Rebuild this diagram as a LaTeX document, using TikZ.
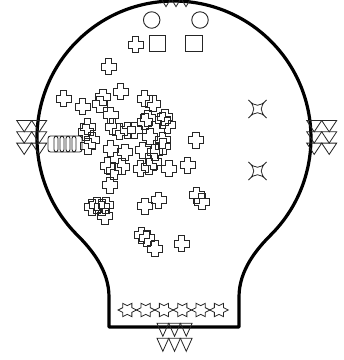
\documentclass[tikz,border=0pt]{standalone}
\usetikzlibrary{shapes.geometric}
\tikzset{
  outline/.style={line width=3.2pt, line join=round, draw=black},
  crossline/.style={line width=0.9pt, draw=black!85},
  triline/.style={line width=0.8pt, draw=black!85, line join=miter},
  padbox/.style={draw=black!85, line width=0.9pt, rounded corners=2.5pt, minimum width=10pt, minimum height=16pt, inner sep=0pt},
  ringmark/.style={draw=black!85, line width=0.9pt, circle, minimum size=16.5pt, inner sep=0pt},
  sqmark/.style={draw=black!85, line width=0.9pt, rectangle, minimum size=16.5pt, inner sep=0pt},
  plusmark/.pic={\draw[crossline] (-3.2,-8) -- (3.2,-8) -- (3.2,-3.5) -- (7.5,-3.5) -- (7.5,3.5) -- (3.2,3.5) -- (3.2,8) -- (-3.2,8) -- (-3.2,3.5) -- (-7.5,3.5) -- (-7.5,-3.5) -- (-3.2,-3.5) -- cycle;},
  hexstar/.pic={\draw[crossline,line width=0.8pt] (9.2,0) -- (4.6,-2.3) -- (4.6,-6.65) -- (0,-4.4) -- (-4.6,-6.65) -- (-4.6,-2.3) -- (-9.2,0) -- (-4.6,2.3) -- (-4.6,6.65) -- (0,4.4) -- (4.6,6.65) -- (4.6,2.3) -- cycle;},
  quadstar/.pic={\draw[crossline,line width=0.8pt] (-9,-9) .. controls (-2.5,-2) and (2.5,-2) .. (9,-9) .. controls (2,-2.5) and (2,2.5) .. (9,9) .. controls (2.5,2) and (-2.5,2) .. (-9,9) .. controls (-2,2.5) and (-2,-2.5) .. (-9,-9) -- cycle;}
}
\begin{document}
\begin{tikzpicture}[x=1pt,y=-1pt]
\useasboundingbox (0,0) rectangle (344,360);
% board outline
\draw[outline] (109,327) -- (109,297) .. controls (109,270) and (91.2,249) .. (77.1,234.9)
  arc[start angle=135, end angle=405, radius=137]
  .. controls (256.8,249) and (239,270) .. (239,297) -- (239,327) -- cycle;
% top holes
\node[ringmark] (h1) at (151.7,20) {};
\node[ringmark] (h2) at (200,20) {};
\node[sqmark] (q1) at (157.5,43.3) {};
\node[sqmark] (q2) at (194,43.3) {};
% connector pads
\foreach \i/\x in {1/53,2/59,3/65,4/71,5/77}
  \node[padbox] (pad\i) at (\x,144) {};
% crosses
\foreach \x/\y in {135.5/44.5, 108.5/66.5, 63.5/98.5, 82.5/106.5, 103/97, 100/104, 120.5/91.5, 144.5/98.5, 153/103.5, 110.5/115, 148/118, 165/117,
  87.5/126.5, 112.5/126.5, 119.5/131.5, 127.5/130, 134.5/130, 145/121.5, 162.5/120, 167.5/125, 150/136.5, 162.5/140, 196/140, 110.5/148.5, 142.5/150, 163/146,
  107.5/165.5, 114/171, 122/166.5, 140.5/168.5, 149/166.5, 154/161.5, 169/168.5, 187.5/165, 110/185,
  86/132, 88/146, 92/140, 125/152, 155/152,
  92/207, 97/205, 102/207, 106/205, 105/216, 145/206, 158.5/200, 196.5/195, 202/201.5, 141.5/235, 147/238, 155/248.5, 181.5/243.5}
  \pic at (\x,\y) {plusmark};
% four point stars
\pic at (257.5,109) {quadstar};
\pic at (257.5,171) {quadstar};
% six point stars
\foreach \x in {127.3,145.7,164,182.3,200.7,219}
  \pic at (\x,310) {hexstar};
% triangles
\foreach \c in {16.7,31.7,306.7,321.7}
  \foreach \r in {120.5,131.8,143.1}
    \draw[triline] (\c,\r) -- ++(15,0) -- ++(-7.5,11.3) -- cycle;
\foreach \c in {157,168.7,180.4}
  \foreach \r in {323.3,338.3}
    \draw[triline] (\c,\r) -- ++(11.7,0) -- ++(-5.85,13) -- cycle;
\foreach \c in {161,171,181}
  \draw[triline] (\c,-1.7) -- ++(10,0) -- ++(-5,8.4) -- cycle;
\end{tikzpicture}
\end{document}
